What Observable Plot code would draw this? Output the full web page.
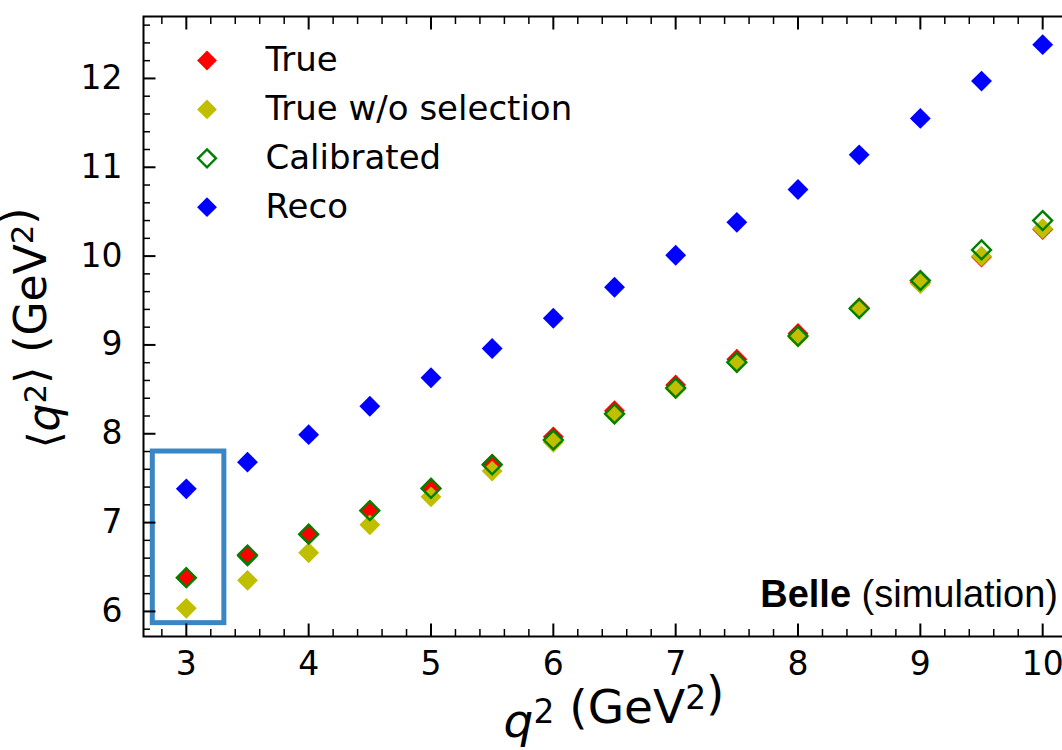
<!DOCTYPE html>
<html>
<head>
<meta charset="utf-8">
<script src="https://cdn.jsdelivr.net/npm/d3@7"></script>
<script src="https://cdn.jsdelivr.net/npm/@observablehq/plot@0.6"></script>
<style>
  html, body { margin: 0; padding: 0; background: #fff; overflow: hidden; }
  #chart { position: relative; width: 1062px; height: 750px; overflow: hidden; }
  #chart svg { display: block; max-width: none !important; }
</style>
</head>
<body>
<div id="chart"></div>
<script>
// q^2 bin centres (GeV^2)
const q2Bins = [3, 3.5, 4, 4.5, 5, 5.5, 6, 6.5, 7, 7.5, 8, 8.5, 9, 9.5, 10];

// <q^2> per bin (GeV^2)
const trueMean    = [6.38, 6.62, 6.865, 7.13, 7.39, 7.66, 7.965, 8.26, 8.55, 8.84, 9.13, 9.42, 9.70, 9.99, 10.30];
const trueNoSel   = [6.035, 6.35, 6.66, 6.975, 7.29, 7.58, 7.905, 8.215, 8.505, 8.80, 9.085, 9.41, 9.69, 10.00, 10.31];
const calibrated  = [6.38, 6.635, 6.87, 7.135, 7.385, 7.65, 7.93, 8.225, 8.515, 8.805, 9.10, 9.41, 9.725, 10.07, 10.40];
const recoMean    = [7.38, 7.68, 7.99, 8.31, 8.63, 8.96, 9.30, 9.65, 10.01, 10.38, 10.75, 11.14, 11.55, 11.97, 12.38];

const seriesNames = ["True", "True w/o selection", "Calibrated", "Reco"];

// axis ticks
const xTicks = [3, 4, 5, 6, 7, 8, 9, 10];
const yTicks = [6, 7, 8, 9, 10, 11, 12];

// highlighted lowest bin (data coordinates)
const highlightBox = [{x1: 2.726, x2: 3.311, y1: 5.868, y2: 7.80}];

// marker styles, one per series (matplotlib classic r / y / g / b)
const styles = [
  {fill: "#ff0000", stroke: "none", r: 9.4, strokeWidth: 0},
  {fill: "#bfbf00", stroke: "none", r: 9.4, strokeWidth: 0},
  {fill: "none", stroke: "#008000", r: 8.5, strokeWidth: 2.4},
  {fill: "#0000ff", stroke: "none", r: 9.4, strokeWidth: 0}
];

const seriesValues = [trueMean, trueNoSel, calibrated, recoMean];
const series = seriesNames.map((name, i) => ({
  name,
  rows: q2Bins.map((q, j) => ({q2: q, mean: seriesValues[i][j]})),
  ...styles[i]
}));

// 5% padding around the data, as in matplotlib's default autoscale
function padded(ext) { const d = (ext[1] - ext[0]) * 0.05; return [ext[0] - d, ext[1] + d]; }
const xDomain = padded(d3.extent(q2Bins));
const yDomain = padded(d3.extent(seriesValues.flat()));

// minor ticks every 0.2
const xMinor = d3.range(Math.ceil(xDomain[0] * 5), Math.floor(xDomain[1] * 5) + 1).map(d => d / 5).filter(v => !xTicks.includes(v));
const yMinor = d3.range(Math.ceil(yDomain[0] * 5), Math.floor(yDomain[1] * 5) + 1).map(d => d / 5).filter(v => !yTicks.includes(v));

const FONT = "DejaVu Sans";
const tickFont = 33;
const legendFont = 34;

const marks = [];

// highlight box
marks.push(Plot.rect(highlightBox, {x1: "x1", x2: "x2", y1: "y1", y2: "y2", fill: "none", stroke: "#3a86c2", strokeWidth: 5}));

// data points, drawn in legend order
for (const s of series) {
  marks.push(Plot.dot(s.rows, {x: "q2", y: "mean", symbol: "diamond2", r: s.r, fill: s.fill, stroke: s.stroke, strokeWidth: s.strokeWidth}));
}

// inward ticks on all four sides
for (const anchor of ["bottom", "top"]) {
  marks.push(Plot.axisX(xMinor, {anchor, tickSize: -7, strokeWidth: 1.5, text: null, label: null}));
  marks.push(Plot.axisX(xTicks, {anchor, tickSize: -12.5, strokeWidth: 2, text: null, label: null}));
}
for (const anchor of ["left", "right"]) {
  marks.push(Plot.axisY(yMinor, {anchor, tickSize: -7, strokeWidth: 1.5, text: null, label: null}));
  marks.push(Plot.axisY(yTicks, {anchor, tickSize: -12.5, strokeWidth: 2, text: null, label: null}));
}
// tick labels
marks.push(Plot.axisX(xTicks, {anchor: "bottom", tickSize: 0, tickPadding: 15, fontSize: tickFont, label: null, tickFormat: d => String(d)}));
marks.push(Plot.axisY(yTicks, {anchor: "left", tickSize: 0, tickPadding: 21, fontSize: tickFont, label: null, tickFormat: d => String(d)}));

// legend (upper left)
series.forEach((s, i) => {
  marks.push(Plot.dot([s.name], {frameAnchor: "top-left", dx: 63.5, dy: 44 + i * 48.9, symbol: "diamond2", r: s.r * 0.95, fill: s.fill, stroke: s.stroke, strokeWidth: s.strokeWidth}));
  marks.push(Plot.text([s.name], {frameAnchor: "top-left", dx: 122, dy: 44 + i * 48.9, text: d => d, textAnchor: "start", lineAnchor: "middle", fontSize: legendFont, fill: "black"}));
});

marks.push(Plot.frame({stroke: "black", strokeWidth: 2}));

const chart = Plot.plot({
  width: 1100,
  height: 750,
  marginLeft: 143,
  marginRight: 15,
  marginTop: 16,
  marginBottom: 114,
  style: {fontFamily: FONT, background: "white", color: "black", overflow: "visible", maxWidth: "none"},
  x: {domain: xDomain, axis: null},
  y: {domain: yDomain, axis: null},
  marks
});

document.getElementById("chart").appendChild(chart);

// axis titles and the experiment tag, placed from the scales
const xs = chart.scale("x"), ys = chart.scale("y");
const svg = d3.select(chart);
const xMid = (xs.range[0] + xs.range[1]) / 2;
const yMid = (ys.range[0] + ys.range[1]) / 2;

function sup(sel, txt) {
  sel.append("tspan").attr("dy", "-0.42em").attr("font-size", "0.7em").text(txt);
  sel.append("tspan").attr("dy", "0.42em").text("");
}

const xt = svg.append("text")
  .attr("x", xMid).attr("y", ys.range[0] + 101)
  .attr("text-anchor", "middle").attr("font-family", FONT).attr("font-size", 47).attr("fill", "black");
xt.append("tspan").attr("font-style", "italic").text("q");
sup(xt, "2");
xt.append("tspan").text("\u00a0(GeV");
sup(xt, "2");
xt.append("tspan").text(")");

const yt = svg.append("text")
  .attr("transform", `translate(${xs.range[0] - 84},${yMid + 2}) rotate(-90)`)
  .attr("text-anchor", "middle").attr("font-family", FONT).attr("font-size", 44).attr("fill", "black");
yt.append("tspan").text("\u27e8");
yt.append("tspan").attr("font-style", "italic").text("q");
sup(yt, "2");
yt.append("tspan").text("\u27e9\u00a0(GeV");
sup(yt, "2");
yt.append("tspan").text(")");

const tag = svg.append("text")
  .attr("x", xs.range[1] - 27).attr("y", ys.range[0] - 29)
  .attr("text-anchor", "end").attr("font-family", "Liberation Sans, Arial, sans-serif").attr("font-size", 38).attr("fill", "black");
tag.append("tspan").attr("font-weight", "bold").text("Belle");
tag.append("tspan").text(" (simulation)");
</script>
</body>
</html>
